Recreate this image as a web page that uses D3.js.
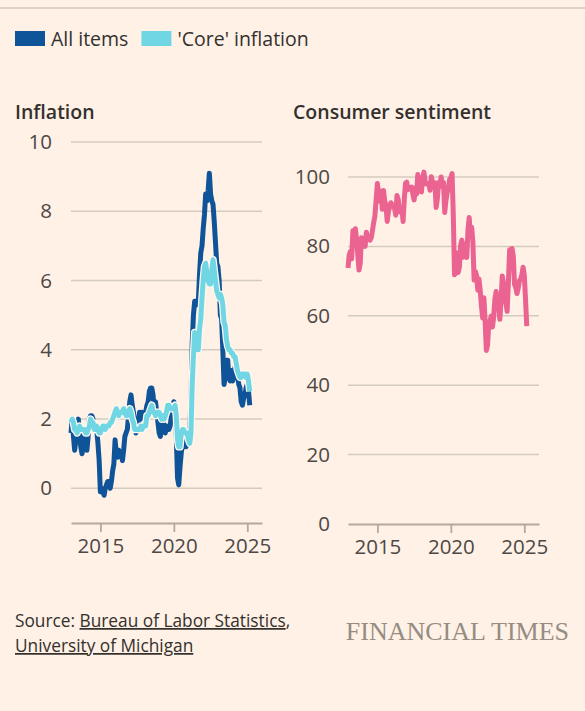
<!DOCTYPE html>
<html>
<head>
<meta charset="utf-8">
<script src="https://cdn.jsdelivr.net/npm/d3@7"></script>
<style>
  body { margin: 0; background: #FFF1E5; }
  svg { display: block; font-family: "Open Sans", sans-serif; }
</style>
</head>
<body>
<svg id="chart" width="585" height="711"></svg>
<script>
// monthly series, Jan 2013 .. Mar 2025
const startYear = 2013;
const allItems = [
  1.6,2.0,1.5,1.1,1.4,1.8,2.0,1.5,1.2,1.0,1.2,1.5,
  1.6,1.1,1.5,2.0,2.1,2.1,2.0,1.7,1.7,1.7,1.3,0.8,
  -0.1,0.0,-0.1,-0.2,0.0,0.1,0.2,0.2,0.0,0.2,0.5,0.7,
  1.4,1.0,0.9,1.1,1.0,1.0,0.8,1.1,1.5,1.6,1.7,2.1,
  2.5,2.7,2.4,2.2,1.9,1.6,1.7,1.9,2.2,2.0,2.2,2.1,
  2.1,2.2,2.4,2.5,2.8,2.9,2.9,2.7,2.3,2.5,2.2,1.9,
  1.6,1.5,1.9,2.0,1.8,1.6,1.8,1.7,1.7,1.8,2.1,2.3,
  2.5,2.3,1.5,0.3,0.1,0.6,1.0,1.3,1.4,1.2,1.2,1.4,
  1.4,1.7,2.6,4.2,5.0,5.4,5.4,5.3,5.4,6.2,6.8,7.0,
  7.5,7.9,8.5,8.3,8.6,9.1,8.5,8.3,8.2,7.7,7.1,6.5,
  6.4,6.0,5.0,4.9,4.0,3.0,3.2,3.7,3.7,3.2,3.1,3.4,
  3.1,3.2,3.5,3.4,3.3,3.0,2.9,2.5,2.4,2.6,2.7,2.9,
  3.0,2.8,2.4
];
const coreInflation = [
  1.9,2.0,1.9,1.7,1.7,1.6,1.7,1.8,1.7,1.7,1.7,1.7,
  1.6,1.6,1.7,1.8,2.0,1.9,1.9,1.7,1.7,1.8,1.7,1.6,
  1.6,1.7,1.8,1.8,1.7,1.8,1.8,1.8,1.9,1.9,2.0,2.1,
  2.2,2.3,2.2,2.1,2.2,2.2,2.2,2.3,2.2,2.1,2.1,2.2,
  2.3,2.2,2.0,1.9,1.7,1.7,1.7,1.7,1.7,1.8,1.7,1.8,
  1.8,1.8,2.1,2.1,2.2,2.3,2.4,2.2,2.2,2.1,2.2,2.2,
  2.2,2.1,2.0,2.1,2.0,2.1,2.2,2.4,2.4,2.3,2.3,2.3,
  2.3,2.4,2.1,1.4,1.2,1.2,1.6,1.7,1.7,1.6,1.6,1.6,
  1.4,1.3,1.6,3.0,3.8,4.5,4.3,4.0,4.0,4.6,4.9,5.5,
  6.0,6.4,6.5,6.2,6.0,5.9,5.9,6.3,6.6,6.3,6.0,5.7,
  5.6,5.5,5.6,5.5,5.3,4.8,4.7,4.3,4.1,4.0,4.0,3.9,
  3.9,3.8,3.8,3.6,3.4,3.3,3.2,3.2,3.3,3.3,3.3,3.2,
  3.3,3.1,2.8
];
const sentiment = [
  73.8,77.6,78.6,76.4,84.5,84.1,85.1,82.1,77.5,73.2,75.1,82.5,
  81.2,81.6,80.0,84.1,81.9,82.5,81.8,82.5,84.6,86.9,88.8,93.6,
  98.1,95.4,93.0,95.9,90.7,96.1,93.1,91.9,87.2,90.0,91.3,92.6,
  92.0,91.7,91.0,89.0,94.7,93.5,90.0,89.8,91.2,87.2,93.8,98.2,
  98.5,96.3,96.9,97.0,97.1,95.0,93.4,96.8,95.1,100.7,98.5,95.9,
  95.7,99.7,101.4,98.8,98.0,98.2,97.9,96.2,100.1,98.6,97.5,98.3,
  91.2,93.8,98.4,97.2,100.0,98.2,98.4,89.8,93.2,95.5,96.8,99.3,
  99.8,101.0,89.1,71.8,72.3,78.1,72.5,74.1,80.4,81.8,76.9,80.7,
  79.0,76.8,84.9,88.3,82.9,85.5,81.2,70.3,72.8,71.7,67.4,70.6,
  67.2,62.8,59.4,65.2,58.4,50.0,51.5,58.2,58.6,59.9,56.8,59.7,
  64.9,67.0,62.0,63.5,59.0,64.2,71.5,69.5,67.9,63.8,61.3,69.7,
  79.0,76.9,79.4,77.2,69.1,68.2,66.4,67.9,70.1,70.5,71.8,74.0,
  71.7,64.7,57.0
];
const xTicks = [2015, 2020, 2025];
const inflationTicks = [0, 2, 4, 6, 8, 10];
const sentimentTicks = [0, 20, 40, 60, 80, 100];
const legendItems = [
  {label: "All items", color: "#0F5499"},
  {label: "'Core' inflation", color: "#70D6E3"}
];

const paper = "#FFF1E5", ink = "#33302E", tickInk = "#4D4845";
const gridCol = "#D4CBC0", axisCol = "#B3A99F";
const svg = d3.select("#chart");

const t = i => startYear + i / 12;

// top rule
svg.append("line").attr("x1", 0).attr("x2", 585).attr("y1", 8).attr("y2", 8)
  .attr("stroke", "#DCD2C7").attr("stroke-width", 2);

// legend
let lx = 15;
legendItems.forEach(d => {
  svg.append("rect").attr("x", lx).attr("y", 31).attr("width", 30).attr("height", 15).attr("fill", d.color);
  const txt = svg.append("text").attr("x", lx + 36).attr("y", 46)
    .attr("font-size", 19.5).attr("fill", ink).text(d.label);
  lx += 36 + txt.node().getComputedTextLength() + 13;
});

function panel(opts) {
  const g = svg.append("g");
  const x = d3.scaleLinear().domain([2013, 2026]).range([opts.x0, opts.x1]);
  const y = d3.scaleLinear().domain(opts.yDomain).range([opts.yBottom, opts.yTop]);

  g.append("text").attr("x", opts.titleX).attr("y", 119).attr("font-size", 19.5)
    .attr("font-weight", 600).attr("fill", ink).text(opts.title);

  // gridlines
  g.selectAll(".grid").data(opts.yTicks.filter(v => v !== opts.yDomain[0])).join("line")
    .attr("x1", opts.x0).attr("x2", opts.x1)
    .attr("y1", d => y(d)).attr("y2", d => y(d))
    .attr("stroke", gridCol).attr("stroke-width", 1.5);

  // y labels
  g.selectAll(".yl").data(opts.yTicks).join("text")
    .attr("x", opts.labelX).attr("y", d => y(d) + 7)
    .attr("text-anchor", "end").attr("font-size", 20.5).attr("fill", tickInk)
    .text(d => d);

  // x axis via d3.axisBottom
  const ax = g.append("g").attr("transform", `translate(0,${opts.yBottom})`)
    .call(d3.axisBottom(x).tickValues(xTicks).tickFormat(d3.format("d")).tickSize(9).tickSizeOuter(0).tickPadding(6));
  ax.select(".domain").attr("stroke", axisCol).attr("stroke-width", 1.8);
  ax.selectAll(".tick line").attr("stroke", axisCol).attr("stroke-width", 1.8);
  ax.selectAll(".tick text").attr("font-size", 20.5).attr("fill", tickInk)
    .attr("font-family", "Open Sans, sans-serif");

  opts.series.forEach(s => {
    const line = d3.line().x((d, i) => x(t(i))).y(d => y(d));
    if (s.halo) {
      g.append("path").datum(s.values).attr("d", line).attr("fill", "none")
        .attr("stroke", "#FFF8F0").attr("stroke-width", 7.5).attr("stroke-linejoin", "round");
    }
    g.append("path").datum(s.values).attr("d", line).attr("fill", "none")
      .attr("stroke", s.color).attr("stroke-width", 5).attr("stroke-linejoin", "round");
  });
}

panel({
  title: "Inflation", titleX: 15, x0: 71, x1: 262, labelX: 52,
  yDomain: [-1, 10], yBottom: 523, yTop: 142, yTicks: inflationTicks,
  series: [
    {values: allItems, color: legendItems[0].color},
    {values: coreInflation, color: legendItems[1].color, halo: true}
  ]
});

panel({
  title: "Consumer sentiment", titleX: 293, x0: 348, x1: 539, labelX: 330,
  yDomain: [0, 100], yBottom: 524, yTop: 177, yTicks: sentimentTicks,
  series: [{values: sentiment, color: "#EA6391"}]
});

// footer
const src = svg.append("text").attr("x", 15).attr("y", 627).attr("font-size", 17.3).attr("fill", ink);
src.append("tspan").text("Source: ");
src.append("tspan").attr("text-decoration", "underline").text("Bureau of Labor Statistics");
src.append("tspan").text(",");
svg.append("text").attr("x", 15).attr("y", 652).attr("font-size", 17.3).attr("fill", ink)
  .attr("text-decoration", "underline").text("University of Michigan");

svg.append("text").attr("x", 569).attr("y", 640).attr("text-anchor", "end")
  .attr("font-family", "Liberation Serif, serif").attr("font-size", 26)
  .attr("fill", "#958C84").text("FINANCIAL TIMES");
</script>
</body>
</html>
